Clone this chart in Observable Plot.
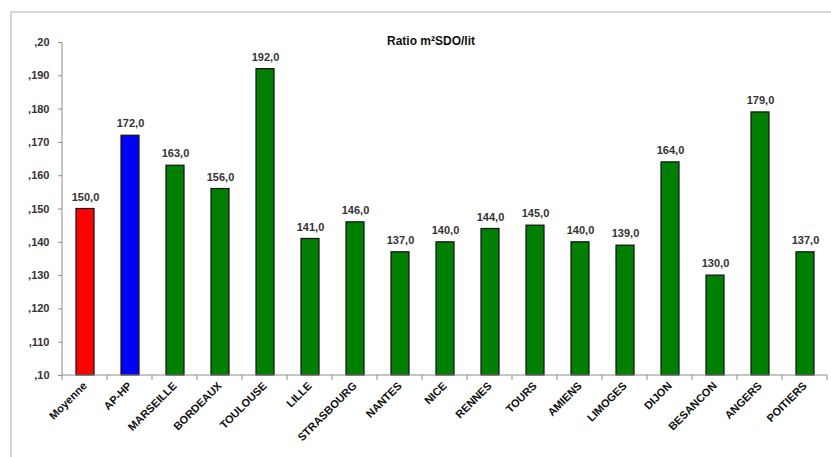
<!DOCTYPE html>
<html><head><meta charset="utf-8">
<script src="https://cdn.jsdelivr.net/npm/d3@7"></script>
<script src="https://cdn.jsdelivr.net/npm/@observablehq/plot@0.6"></script>
<style>
html,body{margin:0;padding:0;background:#fff;}
#wrap{position:relative;width:831px;height:457px;overflow:hidden;}
#border{position:absolute;left:10px;top:11px;width:900px;height:600px;border-left:2px solid #d6d6d6;border-top:2px solid #d6d6d6;pointer-events:none;}
</style></head>
<body><div id="wrap"><div id="border"></div></div>
<script>
const title = "Ratio m²SDO/lit";
const categories = ["Moyenne","AP-HP","MARSEILLE","BORDEAUX","TOULOUSE","LILLE","STRASBOURG","NANTES","NICE","RENNES","TOURS","AMIENS","LIMOGES","DIJON","BESANCON","ANGERS","POITIERS"];
const values = [150,172,163,156,192,141,146,137,140,144,145,140,139,164,130,179,137];
const colors = ["#ff0000","#0000ff","#008000","#008000","#008000","#008000","#008000","#008000","#008000","#008000","#008000","#008000","#008000","#008000","#008000","#008000","#008000"];
const yTicks = [100,110,120,130,140,150,160,170,180,190,200];
const yTickLabels = [",10",",110",",120",",130",",140",",150",",160",",170",",180",",190",",20"];

const data = categories.map((c,i)=>({cat:c, v:values[i], color:colors[i]}));
const fmt = v => v.toFixed(1).replace(".", ",");
const axisColor = "#8c8c8c";

const axisLines = (index, scales, values, dims) => {
  const x = scales.x, y = scales.y;
  const step = x(categories[1]) - x(categories[0]);
  const g = d3.create("svg:g").attr("stroke", axisColor).attr("stroke-width", 1).attr("fill","none");
  const y0 = y(100), yTop = y(200);
  const left = dims.marginLeft, right = dims.width - dims.marginRight;
  g.append("line").attr("x1", left).attr("x2", left).attr("y1", yTop).attr("y2", y0);
  g.append("line").attr("x1", left).attr("x2", right).attr("y1", y0).attr("y2", y0);
  for (let k = 0; k <= categories.length; k++) {
    const xx = left + k*step;
    g.append("line").attr("x1", xx).attr("x2", xx).attr("y1", y0).attr("y2", y0+5);
  }
  return g.node();
};

const chart = Plot.plot({
  width: 831, height: 457,
  marginLeft: 62, marginRight: 4, marginTop: 42, marginBottom: 82,
  style: {fontFamily: "'Liberation Sans', Arial, sans-serif", background: "transparent", overflow: "visible"},
  x: {domain: categories, paddingInner: 0.6, paddingOuter: 0.3, axis: null},
  y: {domain: [100, 200], axis: null},
  marks: [
    Plot.barY(data, {x: "cat", y1: 100, y2: "v", fill: "color", stroke: "#111", strokeWidth: 1.2}),
    axisLines,
    Plot.axisY({ticks: yTicks, tickFormat: d => yTickLabels[yTicks.indexOf(d)], tickSize: 4, tickPadding: 9, stroke: axisColor, fill: "#333", fontSize: 11, fontWeight: "bold", label: null}),
    Plot.text(data, {x: "cat", y: "v", text: d => fmt(d.v), dy: -12, fill: "#333", fontSize: 11, fontWeight: "bold"}),
    Plot.text(data, {x: "cat", frameAnchor: "bottom", text: "cat", rotate: -45, textAnchor: "end", dx: 2, dy: 11, fill: "#111", fontSize: 11, fontWeight: "bold"}),
    Plot.text([title], {frameAnchor: "top", text: d => d, dx: -14, dy: -6, fill: "#111", fontSize: 12, fontWeight: "bold"})
  ]
});
chart.style.position = "absolute";
chart.style.left = "0";
chart.style.top = "0";
document.getElementById("wrap").appendChild(chart);
</script>
</body></html>
